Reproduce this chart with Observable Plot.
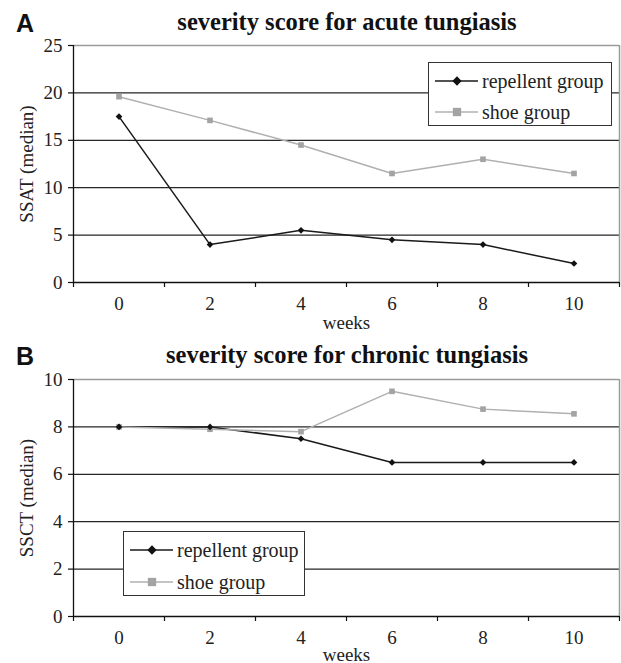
<!DOCTYPE html>
<html>
<head>
<meta charset="utf-8">
<script src="https://cdn.jsdelivr.net/npm/d3@7"></script>
<script src="https://cdn.jsdelivr.net/npm/@observablehq/plot@0.6"></script>
<style>
  html, body { margin: 0; padding: 0; background: #fff; }
  #root { position: relative; width: 621px; height: 663px; overflow: hidden; font-family: "Liberation Serif", "Times New Roman", serif; }
  .panel { position: absolute; left: 0; }
  .panel svg { overflow: visible; }
  .letter { position: absolute; font-family: "Liberation Sans", Arial, sans-serif; font-weight: bold; font-size: 25px; line-height: 25px; color: #111; }
  .title { position: absolute; font-family: "Liberation Serif", serif; font-weight: bold; font-size: 24.5px; line-height: 24px; color: #111; white-space: nowrap; transform: translateX(-50%); }
  .legend { position: absolute; background: #fff; border: 1px solid #333; box-sizing: border-box; font-family: "Liberation Serif", serif; font-size: 20px; color: #222; }
  .legend .row { position: absolute; left: 0; height: 24px; display: flex; align-items: center; white-space: nowrap; }
  .legend svg { display: block; }
</style>
</head>
<body>
<div id="root"></div>
<script>
// ---------- data ----------
const weeks = [0, 2, 4, 6, 8, 10];
const seriesNames = ["repellent group", "shoe group"];
// Panel A: severity score for acute tungiasis (SSAT median)
const acuteRepellent = [17.5, 4, 5.5, 4.5, 4, 2];
const acuteShoe = [19.6, 17.1, 14.5, 11.5, 13, 11.5];
const acuteYTicks = [0, 5, 10, 15, 20, 25];
// Panel B: severity score for chronic tungiasis (SSCT median)
const chronicRepellent = [8, 8, 7.5, 6.5, 6.5, 6.5];
const chronicShoe = [8, 7.9, 7.8, 9.5, 8.75, 8.55];
const chronicYTicks = [0, 2, 4, 6, 8, 10];
const titles = ["severity score for acute tungiasis", "severity score for chronic tungiasis"];
const yLabels = ["SSAT (median)", "SSCT (median)"];
const xLabel = "weeks";
const letters = ["A", "B"];

// ---------- styles ----------
const FONT = '"Liberation Serif", "Times New Roman", serif';
const colors = {"repellent group": "#111111", "shoe group": "#a3a3a3"};
const lineColors = {"repellent group": "#1a1a1a", "shoe group": "#b0b0b0"};
const symbols = {"repellent group": "diamond2", "shoe group": "square"};
const radii = {"repellent group": 4.2, "shoe group": 4.7};

function rows(rep, shoe) {
  const out = [];
  weeks.forEach((w, i) => out.push({week: w, value: rep[i], group: seriesNames[0]}));
  weeks.forEach((w, i) => out.push({week: w, value: shoe[i], group: seriesNames[1]}));
  return out;
}

// category boundaries (Excel-style tick marks between categories)
const boundaryTicks = d3.range(-1, 12, 2);

function panel({data, yTicks, yLabel, height, marginTop, marginBottom, xLabelOffset}) {
  const yMax = yTicks[yTicks.length - 1];
  return Plot.plot({
    width: 621,
    height,
    marginLeft: 73,
    marginRight: 2,
    marginTop,
    marginBottom,
    style: {fontFamily: FONT, fontSize: "19px", color: "#222", background: "transparent", overflow: "visible"},
    x: {domain: [-1, 11]},
    y: {domain: [0, yMax]},
    marks: [
      Plot.ruleY(yTicks.filter(t => t > 0 && t < yMax), {stroke: "#262626", strokeWidth: 1.3}),
      Plot.ruleY([yMax], {stroke: "#9a9a9a", strokeWidth: 1.5}),
      Plot.ruleX([11], {stroke: "#9a9a9a", strokeWidth: 1.5}),
      Plot.axisY({ticks: yTicks, tickSize: 5, tickPadding: 6, stroke: "#111", strokeWidth: 1.2, fontSize: 19, fontFamily: FONT,
        label: yLabel, labelAnchor: "center", labelArrow: "none", labelOffset: 54}),
      Plot.axisX({ticks: boundaryTicks, tickSize: 5, tickFormat: () => "", stroke: "#111", strokeWidth: 1.2, label: null}),
      Plot.axisX({ticks: weeks, tickSize: 0, tickPadding: 14, fontSize: 19, fontFamily: FONT,
        label: xLabel, labelAnchor: "center", labelArrow: "none", labelOffset: xLabelOffset}),
      Plot.ruleX([-1], {stroke: "#111", strokeWidth: 1.3, y1: 0, y2: yMax}),
      Plot.ruleY([0], {stroke: "#111", strokeWidth: 1.3}),
      Plot.line(data, {x: "week", y: "value", z: "group", stroke: d => lineColors[d.group], strokeWidth: 1.5}),
      Plot.dot(data, {x: "week", y: "value", symbol: d => symbols[d.group], r: d => radii[d.group],
        fill: d => colors[d.group], stroke: "none"})
    ]
  });
}

const root = document.getElementById("root");

function addPanel(i, top, svg, legendBox) {
  const wrap = document.createElement("div");
  wrap.className = "panel";
  wrap.style.top = top + "px";
  wrap.appendChild(svg);
  root.appendChild(wrap);
  const L = document.createElement("div");
  L.className = "letter";
  L.textContent = letters[i];
  L.style.left = "16px";
  L.style.top = (top + 11) + "px";
  root.appendChild(L);
  const T = document.createElement("div");
  T.className = "title";
  T.textContent = titles[i];
  T.style.left = "347px";
  T.style.top = (top + 10) + "px";
  root.appendChild(T);
  const lg = document.createElement("div");
  lg.className = "legend";
  Object.assign(lg.style, {left: legendBox.left + "px", top: legendBox.top + "px", width: legendBox.width + "px", height: legendBox.height + "px"});
  seriesNames.forEach((name, k) => {
    const row = document.createElement("div");
    row.className = "row";
    row.style.top = (legendBox.rowTops[k]) + "px";
    row.style.left = legendBox.pad + "px";
    const s = d3.create("svg").attr("width", 44).attr("height", 24);
    s.append("line").attr("x1", 0).attr("x2", 43).attr("y1", 12).attr("y2", 12)
      .attr("stroke", lineColors[name]).attr("stroke-width", 1.5);
    const sym = name === seriesNames[0] ? d3.symbolDiamond2 : d3.symbolSquare;
    const r = radii[name];
    s.append("path").attr("transform", "translate(22,12)")
      .attr("d", d3.symbol(sym, r * r * Math.PI)()).attr("fill", colors[name]);
    row.appendChild(s.node());
    const t = document.createElement("span");
    t.textContent = name;
    t.style.marginLeft = "3px";
    t.style.lineHeight = "24px";
    row.appendChild(t);
    lg.appendChild(row);
  });
  root.appendChild(lg);
}

addPanel(0, 0, panel({data: rows(acuteRepellent, acuteShoe), yTicks: acuteYTicks, yLabel: yLabels[0], height: 333, marginTop: 45, marginBottom: 51, xLabelOffset: 46}),
  {left: 428, top: 62, width: 184, height: 64, pad: 6, rowTops: [6, 37]});
addPanel(1, 333, panel({data: rows(chronicRepellent, chronicShoe), yTicks: chronicYTicks, yLabel: yLabels[1], height: 330, marginTop: 46, marginBottom: 47, xLabelOffset: 44}),
  {left: 123, top: 531, width: 182, height: 65, pad: 6, rowTops: [6, 38]});
</script>
</body>
</html>
